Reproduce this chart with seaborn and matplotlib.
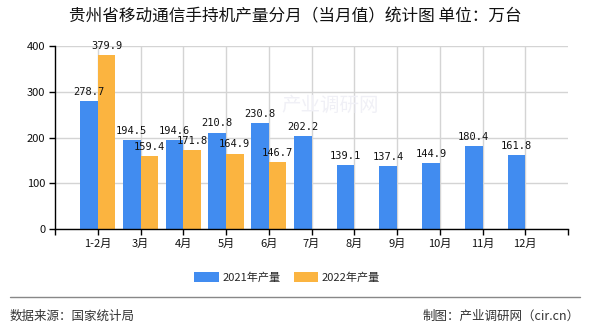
import matplotlib
matplotlib.use("Agg")
import matplotlib.pyplot as plt
from matplotlib.lines import Line2D
import seaborn as sns
import pandas as pd

months = ["1-2月", "3月", "4月", "5月", "6月", "7月", "8月", "9月", "10月", "11月", "12月"]
v2021 = [278.7, 194.5, 194.6, 210.8, 230.8, 202.2, 139.1, 137.4, 144.9, 180.4, 161.8]
v2022 = [379.9, 159.4, 171.8, 164.9, 146.7]
series = ["2021年产量", "2022年产量"]
colors = ["#418CF0", "#FBB440"]
yticks = [0, 100, 200, 300, 400]
title = "贵州省移动通信手持机产量分月（当月值）统计图 单位：万台"

sns.set_theme(style="white")
plt.rcParams['font.family'] = ['Noto Sans CJK SC', 'DejaVu Sans']

rows = []
for m, v in zip(months, v2021):
    rows.append((m, series[0], v))
for m, v in zip(months, v2022):
    rows.append((m, series[1], v))
df = pd.DataFrame(rows, columns=["month", "series", "value"])

W, H = 590, 330
fig = plt.figure(figsize=(W / 100, H / 100), dpi=100)
ax = fig.add_axes([55 / W, 1 - 229 / H, 513 / W, 183 / H])

sns.barplot(data=df, x="month", y="value", hue="series", order=months,
            hue_order=series, palette=colors, width=0.82, gap=0,
            saturation=1, ax=ax, zorder=2, linewidth=0, edgecolor="none")

for cont in ax.containers:
    ax.bar_label(cont, fmt="%.1f", padding=3, fontsize=7.5,
                 family=["DejaVu Sans Mono"], color="#111111")

ax.set_xlim(-1, 11)
ax.set_ylim(0, 400)
ax.set_yticks(yticks)
ax.set_xticks(range(len(months)))
ax.set_xticklabels(months)
ax.set_xticks([-1, 11], minor=True)
ax.set_xlabel("")
ax.set_ylabel("")
ax.set_axisbelow(True)
ax.grid(True, axis="both", which="major", color="#d4d4d4", lw=1)
for s in ["top", "right"]:
    ax.spines[s].set_visible(False)
for s in ["left", "bottom"]:
    ax.spines[s].set_color("black")
    ax.spines[s].set_linewidth(1)
ax.tick_params(axis="both", which="both", direction="out", length=4,
               width=1, color="black", labelsize=8, labelcolor="#111111",
               bottom=True, left=True, pad=3)

sns.move_legend(ax, "center", bbox_to_anchor=(287 / W, 1 - 277 / H),
                bbox_transform=fig.transFigure, ncol=2, frameon=False,
                title=None, fontsize=8, handlelength=2.2, handleheight=1.0,
                columnspacing=1.2, handletextpad=0.3)

fig.text(0.5, 1 - 17 / H, title, ha="center", va="center", fontsize=12,
         color="#111111")
fig.text(0.56, 0.68, "产业调研网", ha="center", va="center", fontsize=14,
         color="#f0f0f6")

fig.add_artist(Line2D([10 / W, 580 / W], [1 - 297 / H, 1 - 297 / H],
                      color="#888888", lw=1))
fig.text(10 / W, 1 - 316 / H, "数据来源：国家统计局", ha="left", va="center",
         fontsize=9, color="#333333")
fig.text(580 / W, 1 - 316 / H, "制图：产业调研网（cir.cn）", ha="right",
         va="center", fontsize=9, color="#333333")

fig.savefig("out.png", dpi=100)
